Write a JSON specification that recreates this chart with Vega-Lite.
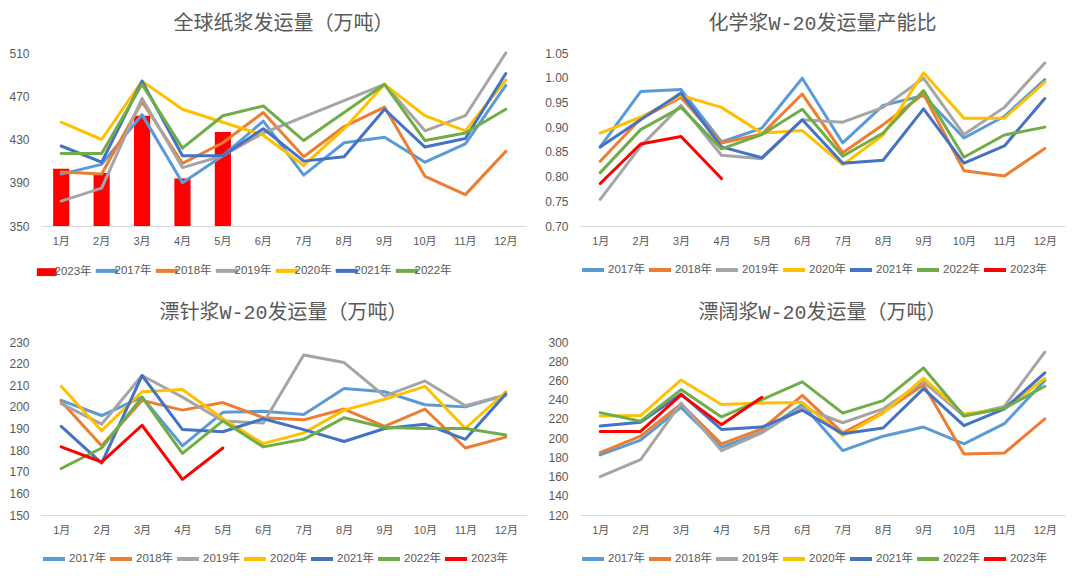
{
  "$schema": "https://vega.github.io/schema/vega-lite/v6.json",
  "background": "white",
  "padding": {"left": 8, "top": 14, "right": 5, "bottom": 0},
  "autosize": {"type": "pad"},
  "columns": 2,
  "bounds": "flush",
  "spacing": {"row": 116, "column": 54},
  "resolve": {"scale": {"color": "independent"}, "legend": {"color": "independent"}},
  "datasets": {
    "global": [
      {"m":"1月","s":"2017年","v":398},{"m":"2月","s":"2017年","v":407},{"m":"3月","s":"2017年","v":453},{"m":"4月","s":"2017年","v":390},{"m":"5月","s":"2017年","v":415},{"m":"6月","s":"2017年","v":447},{"m":"7月","s":"2017年","v":397},{"m":"8月","s":"2017年","v":427},{"m":"9月","s":"2017年","v":432},{"m":"10月","s":"2017年","v":409},{"m":"11月","s":"2017年","v":426},{"m":"12月","s":"2017年","v":480},
      {"m":"1月","s":"2018年","v":400},{"m":"2月","s":"2018年","v":398},{"m":"3月","s":"2018年","v":465},{"m":"4月","s":"2018年","v":408},{"m":"5月","s":"2018年","v":427},{"m":"6月","s":"2018年","v":455},{"m":"7月","s":"2018年","v":414},{"m":"8月","s":"2018年","v":442},{"m":"9月","s":"2018年","v":460},{"m":"10月","s":"2018年","v":396},{"m":"11月","s":"2018年","v":379},{"m":"12月","s":"2018年","v":419},
      {"m":"1月","s":"2019年","v":373},{"m":"2月","s":"2019年","v":385},{"m":"3月","s":"2019年","v":468},{"m":"4月","s":"2019年","v":404},{"m":"5月","s":"2019年","v":415},{"m":"6月","s":"2019年","v":436},{"m":"7月","s":"2019年","v":451},{"m":"8月","s":"2019年","v":466},{"m":"9月","s":"2019年","v":481},{"m":"10月","s":"2019年","v":438},{"m":"11月","s":"2019年","v":452},{"m":"12月","s":"2019年","v":510},
      {"m":"1月","s":"2020年","v":446},{"m":"2月","s":"2020年","v":430},{"m":"3月","s":"2020年","v":484},{"m":"4月","s":"2020年","v":458},{"m":"5月","s":"2020年","v":446},{"m":"6月","s":"2020年","v":434},{"m":"7月","s":"2020年","v":406},{"m":"8月","s":"2020年","v":440},{"m":"9月","s":"2020年","v":481},{"m":"10月","s":"2020年","v":452},{"m":"11月","s":"2020年","v":438},{"m":"12月","s":"2020年","v":485},
      {"m":"1月","s":"2021年","v":424},{"m":"2月","s":"2021年","v":409},{"m":"3月","s":"2021年","v":484},{"m":"4月","s":"2021年","v":415},{"m":"5月","s":"2021年","v":415},{"m":"6月","s":"2021年","v":440},{"m":"7月","s":"2021年","v":410},{"m":"8月","s":"2021年","v":414},{"m":"9月","s":"2021年","v":458},{"m":"10月","s":"2021年","v":423},{"m":"11月","s":"2021年","v":431},{"m":"12月","s":"2021年","v":491},
      {"m":"1月","s":"2022年","v":417},{"m":"2月","s":"2022年","v":417},{"m":"3月","s":"2022年","v":481},{"m":"4月","s":"2022年","v":422},{"m":"5月","s":"2022年","v":452},{"m":"6月","s":"2022年","v":461},{"m":"7月","s":"2022年","v":429},{"m":"8月","s":"2022年","v":455},{"m":"9月","s":"2022年","v":481},{"m":"10月","s":"2022年","v":429},{"m":"11月","s":"2022年","v":436},{"m":"12月","s":"2022年","v":458},
      {"m":"1月","s":"2023年","v":403},{"m":"2月","s":"2023年","v":399},{"m":"3月","s":"2023年","v":452},{"m":"4月","s":"2023年","v":394},{"m":"5月","s":"2023年","v":437}
    ],
    "ratio": [
      {"m":"1月","s":"2017年","v":0.860},{"m":"2月","s":"2017年","v":0.972},{"m":"3月","s":"2017年","v":0.976},{"m":"4月","s":"2017年","v":0.870},{"m":"5月","s":"2017年","v":0.898},{"m":"6月","s":"2017年","v":0.999},{"m":"7月","s":"2017年","v":0.868},{"m":"8月","s":"2017年","v":0.944},{"m":"9月","s":"2017年","v":0.964},{"m":"10月","s":"2017年","v":0.878},{"m":"11月","s":"2017年","v":0.922},{"m":"12月","s":"2017年","v":0.996},
      {"m":"1月","s":"2018年","v":0.831},{"m":"2月","s":"2018年","v":0.917},{"m":"3月","s":"2018年","v":0.960},{"m":"4月","s":"2018年","v":0.868},{"m":"5月","s":"2018年","v":0.886},{"m":"6月","s":"2018年","v":0.967},{"m":"7月","s":"2018年","v":0.848},{"m":"8月","s":"2018年","v":0.905},{"m":"9月","s":"2018年","v":0.967},{"m":"10月","s":"2018年","v":0.812},{"m":"11月","s":"2018年","v":0.801},{"m":"12月","s":"2018年","v":0.857},
      {"m":"1月","s":"2019年","v":0.754},{"m":"2月","s":"2019年","v":0.861},{"m":"3月","s":"2019年","v":0.944},{"m":"4月","s":"2019年","v":0.843},{"m":"5月","s":"2019年","v":0.836},{"m":"6月","s":"2019年","v":0.915},{"m":"7月","s":"2019年","v":0.910},{"m":"8月","s":"2019年","v":0.940},{"m":"9月","s":"2019年","v":0.999},{"m":"10月","s":"2019年","v":0.885},{"m":"11月","s":"2019年","v":0.940},{"m":"12月","s":"2019年","v":1.030},
      {"m":"1月","s":"2020年","v":0.888},{"m":"2月","s":"2020年","v":0.920},{"m":"3月","s":"2020年","v":0.964},{"m":"4月","s":"2020年","v":0.940},{"m":"5月","s":"2020年","v":0.888},{"m":"6月","s":"2020年","v":0.893},{"m":"7月","s":"2020年","v":0.824},{"m":"8月","s":"2020年","v":0.884},{"m":"9月","s":"2020年","v":1.010},{"m":"10月","s":"2020年","v":0.918},{"m":"11月","s":"2020年","v":0.918},{"m":"12月","s":"2020年","v":0.991},
      {"m":"1月","s":"2021年","v":0.860},{"m":"2月","s":"2021年","v":0.915},{"m":"3月","s":"2021年","v":0.969},{"m":"4月","s":"2021年","v":0.860},{"m":"5月","s":"2021年","v":0.838},{"m":"6月","s":"2021年","v":0.915},{"m":"7月","s":"2021年","v":0.827},{"m":"8月","s":"2021年","v":0.833},{"m":"9月","s":"2021年","v":0.937},{"m":"10月","s":"2021年","v":0.827},{"m":"11月","s":"2021年","v":0.862},{"m":"12月","s":"2021年","v":0.958},
      {"m":"1月","s":"2022年","v":0.808},{"m":"2月","s":"2022年","v":0.895},{"m":"3月","s":"2022年","v":0.940},{"m":"4月","s":"2022年","v":0.856},{"m":"5月","s":"2022年","v":0.885},{"m":"6月","s":"2022年","v":0.936},{"m":"7月","s":"2022年","v":0.841},{"m":"8月","s":"2022年","v":0.888},{"m":"9月","s":"2022年","v":0.974},{"m":"10月","s":"2022年","v":0.839},{"m":"11月","s":"2022年","v":0.884},{"m":"12月","s":"2022年","v":0.900},
      {"m":"1月","s":"2023年","v":0.786},{"m":"2月","s":"2023年","v":0.866},{"m":"3月","s":"2023年","v":0.881},{"m":"4月","s":"2023年","v":0.796}
    ],
    "softwood": [
      {"m":"1月","s":"2017年","v":203},{"m":"2月","s":"2017年","v":196},{"m":"3月","s":"2017年","v":204.5},{"m":"4月","s":"2017年","v":182},{"m":"5月","s":"2017年","v":197.5},{"m":"6月","s":"2017年","v":198},{"m":"7月","s":"2017年","v":196.5},{"m":"8月","s":"2017年","v":208.5},{"m":"9月","s":"2017年","v":207},{"m":"10月","s":"2017年","v":201},{"m":"11月","s":"2017年","v":200},{"m":"12月","s":"2017年","v":205.5},
      {"m":"1月","s":"2018年","v":202.5},{"m":"2月","s":"2018年","v":182},{"m":"3月","s":"2018年","v":203},{"m":"4月","s":"2018年","v":198.5},{"m":"5月","s":"2018年","v":202},{"m":"6月","s":"2018年","v":195},{"m":"7月","s":"2018年","v":194},{"m":"8月","s":"2018年","v":199},{"m":"9月","s":"2018年","v":191},{"m":"10月","s":"2018年","v":199},{"m":"11月","s":"2018年","v":181},{"m":"12月","s":"2018年","v":186},
      {"m":"1月","s":"2019年","v":201.5},{"m":"2月","s":"2019年","v":192},{"m":"3月","s":"2019年","v":214.5},{"m":"4月","s":"2019年","v":204.5},{"m":"5月","s":"2019年","v":193.5},{"m":"6月","s":"2019年","v":192.5},{"m":"7月","s":"2019年","v":224},{"m":"8月","s":"2019年","v":220.5},{"m":"9月","s":"2019年","v":205},{"m":"10月","s":"2019年","v":212},{"m":"11月","s":"2019年","v":200.5},{"m":"12月","s":"2019年","v":205.5},
      {"m":"1月","s":"2020年","v":209.5},{"m":"2月","s":"2020年","v":189},{"m":"3月","s":"2020年","v":207},{"m":"4月","s":"2020年","v":208},{"m":"5月","s":"2020年","v":194.5},{"m":"6月","s":"2020年","v":183},{"m":"7月","s":"2020年","v":188},{"m":"8月","s":"2020年","v":198.5},{"m":"9月","s":"2020年","v":203.5},{"m":"10月","s":"2020年","v":209.5},{"m":"11月","s":"2020年","v":190},{"m":"12月","s":"2020年","v":207},
      {"m":"1月","s":"2021年","v":191},{"m":"2月","s":"2021年","v":174},{"m":"3月","s":"2021年","v":214.5},{"m":"4月","s":"2021年","v":189.5},{"m":"5月","s":"2021年","v":188.5},{"m":"6月","s":"2021年","v":194.5},{"m":"7月","s":"2021年","v":189.5},{"m":"8月","s":"2021年","v":184},{"m":"9月","s":"2021年","v":190},{"m":"10月","s":"2021年","v":192},{"m":"11月","s":"2021年","v":185},{"m":"12月","s":"2021年","v":206},
      {"m":"1月","s":"2022年","v":171.5},{"m":"2月","s":"2022年","v":181},{"m":"3月","s":"2022年","v":204.5},{"m":"4月","s":"2022年","v":178.5},{"m":"5月","s":"2022年","v":193.5},{"m":"6月","s":"2022年","v":181.5},{"m":"7月","s":"2022年","v":185},{"m":"8月","s":"2022年","v":195},{"m":"9月","s":"2022年","v":190.5},{"m":"10月","s":"2022年","v":190},{"m":"11月","s":"2022年","v":190},{"m":"12月","s":"2022年","v":187},
      {"m":"1月","s":"2023年","v":181.5},{"m":"2月","s":"2023年","v":174.5},{"m":"3月","s":"2023年","v":191.5},{"m":"4月","s":"2023年","v":166.5},{"m":"5月","s":"2023年","v":181}
    ],
    "hardwood": [
      {"m":"1月","s":"2017年","v":182.5},{"m":"2月","s":"2017年","v":198},{"m":"3月","s":"2017年","v":232},{"m":"4月","s":"2017年","v":190.5},{"m":"5月","s":"2017年","v":206},{"m":"6月","s":"2017年","v":235},{"m":"7月","s":"2017年","v":187},{"m":"8月","s":"2017年","v":202},{"m":"9月","s":"2017年","v":211.5},{"m":"10月","s":"2017年","v":194},{"m":"11月","s":"2017年","v":215},{"m":"12月","s":"2017年","v":260},
      {"m":"1月","s":"2018年","v":185},{"m":"2月","s":"2018年","v":202},{"m":"3月","s":"2018年","v":235.5},{"m":"4月","s":"2018年","v":194},{"m":"5月","s":"2018年","v":209.5},{"m":"6月","s":"2018年","v":244.5},{"m":"7月","s":"2018年","v":205.5},{"m":"8月","s":"2018年","v":227},{"m":"9月","s":"2018年","v":255.5},{"m":"10月","s":"2018年","v":183.5},{"m":"11月","s":"2018年","v":184.5},{"m":"12月","s":"2018年","v":220},
      {"m":"1月","s":"2019年","v":160},{"m":"2月","s":"2019年","v":177.5},{"m":"3月","s":"2019年","v":236.5},{"m":"4月","s":"2019年","v":187},{"m":"5月","s":"2019年","v":205.5},{"m":"6月","s":"2019年","v":232},{"m":"7月","s":"2019年","v":216},{"m":"8月","s":"2019年","v":230.5},{"m":"9月","s":"2019年","v":258.5},{"m":"10月","s":"2019年","v":223},{"m":"11月","s":"2019年","v":233},{"m":"12月","s":"2019年","v":289.5},
      {"m":"1月","s":"2020年","v":223},{"m":"2月","s":"2020年","v":223.5},{"m":"3月","s":"2020年","v":260.5},{"m":"4月","s":"2020年","v":235},{"m":"5月","s":"2020年","v":236.5},{"m":"6月","s":"2020年","v":237},{"m":"7月","s":"2020年","v":202.5},{"m":"8月","s":"2020年","v":226},{"m":"9月","s":"2020年","v":262.5},{"m":"10月","s":"2020年","v":225},{"m":"11月","s":"2020年","v":230.5},{"m":"12月","s":"2020年","v":262},
      {"m":"1月","s":"2021年","v":212.5},{"m":"2月","s":"2021年","v":216.5},{"m":"3月","s":"2021年","v":246},{"m":"4月","s":"2021年","v":209},{"m":"5月","s":"2021年","v":211.5},{"m":"6月","s":"2021年","v":229},{"m":"7月","s":"2021年","v":204.5},{"m":"8月","s":"2021年","v":210.5},{"m":"9月","s":"2021年","v":251.5},{"m":"10月","s":"2021年","v":213},{"m":"11月","s":"2021年","v":230.5},{"m":"12月","s":"2021年","v":268},
      {"m":"1月","s":"2022年","v":226.5},{"m":"2月","s":"2022年","v":217.5},{"m":"3月","s":"2022年","v":250.5},{"m":"4月","s":"2022年","v":222},{"m":"5月","s":"2022年","v":240},{"m":"6月","s":"2022年","v":258.5},{"m":"7月","s":"2022年","v":226},{"m":"8月","s":"2022年","v":239},{"m":"9月","s":"2022年","v":273},{"m":"10月","s":"2022年","v":223},{"m":"11月","s":"2022年","v":231},{"m":"12月","s":"2022年","v":254},
      {"m":"1月","s":"2023年","v":207},{"m":"2月","s":"2023年","v":207},{"m":"3月","s":"2023年","v":245},{"m":"4月","s":"2023年","v":214},{"m":"5月","s":"2023年","v":242.5}
    ]
  },
  "concat": [
    {
      "title": "全球纸浆发运量（万吨）",
      "width": 485,
      "height": 173,
      "data": {"name": "global"},
      "layer": [
        {
          "transform": [{"filter": "datum.s === '2023年'"}],
          "mark": {"type": "bar"},
          "encoding": {
            "x": {"field": "m", "type": "nominal", "title": null, "sort": null,
                  "scale": {"domain": ["1月","2月","3月","4月","5月","6月","7月","8月","9月","10月","11月","12月"], "paddingInner": 0.6, "paddingOuter": 0.3}},
            "y": {"field": "v", "type": "quantitative", "title": null,
                  "scale": {"domain": [350, 510], "zero": false, "nice": false},
                  "axis": {"values": [350, 370, 390, 410, 430, 450, 470, 490, 510]}},
            "y2": {"datum": 350},
            "fill": {"field": "s", "type": "nominal", "legend": null,
                     "scale": {"domain": ["2023年"], "range": ["#FF0000"]}}
          }
        },
        {
          "transform": [{"filter": "datum.s !== '2023年'"}],
          "mark": {"type": "line", "strokeWidth": 3, "strokeJoin": "round", "strokeCap": "round"},
          "encoding": {
            "x": {"field": "m", "type": "nominal", "sort": null},
            "y": {"field": "v", "type": "quantitative"},
            "color": {"field": "s", "type": "nominal",
                      "scale": {"domain": ["2023年","2017年","2018年","2019年","2020年","2021年","2022年"],
                                "range": ["#FF0000","#5B9BD5","#ED7D31","#A5A5A5","#FFC000","#4472C4","#70AD47"]},
                      "legend": {"title": null, "orient": "bottom", "direction": "horizontal", "offset": 19,
                                 "encode": {"symbols": {"update": {
                                   "shape": {"signal": "datum.value === '2023年' ? 'M-0.9,-0.36H0.9V0.36H-0.9Z' : 'stroke'"},
                                   "fill": {"signal": "datum.value === '2023年' ? '#FF0000' : 'transparent'"},
                                   "strokeWidth": {"signal": "datum.value === '2023年' ? 0 : 4"}}}}}}
          }
        }
      ]
    },
    {
      "title": "化学浆W-20发运量产能比",
      "width": 485,
      "height": 173,
      "data": {"name": "ratio"},
      "mark": {"type": "line", "strokeWidth": 3, "strokeJoin": "round", "strokeCap": "round"},
      "encoding": {
        "x": {"field": "m", "type": "nominal", "title": null, "sort": null,
              "scale": {"type": "point", "domain": ["1月","2月","3月","4月","5月","6月","7月","8月","9月","10月","11月","12月"], "padding": 0.5}},
        "y": {"field": "v", "type": "quantitative", "title": null,
              "scale": {"domain": [0.7, 1.05], "zero": false, "nice": false},
              "axis": {"values": [0.7, 0.75, 0.8, 0.85, 0.9, 0.95, 1.0, 1.05], "format": ".2f"}},
        "color": {"field": "s", "type": "nominal",
                  "scale": {"domain": ["2017年","2018年","2019年","2020年","2021年","2022年","2023年"],
                            "range": ["#5B9BD5","#ED7D31","#A5A5A5","#FFC000","#4472C4","#70AD47","#FF0000"]},
                  "legend": {"title": null, "orient": "bottom", "direction": "horizontal"}}
      }
    },
    {
      "title": "漂针浆W-20发运量（万吨）",
      "width": 485,
      "height": 173,
      "data": {"name": "softwood"},
      "mark": {"type": "line", "strokeWidth": 3, "strokeJoin": "round", "strokeCap": "round"},
      "encoding": {
        "x": {"field": "m", "type": "nominal", "title": null, "sort": null,
              "scale": {"type": "point", "domain": ["1月","2月","3月","4月","5月","6月","7月","8月","9月","10月","11月","12月"], "padding": 0.5}},
        "y": {"field": "v", "type": "quantitative", "title": null,
              "scale": {"domain": [150, 230], "zero": false, "nice": false},
              "axis": {"values": [150, 160, 170, 180, 190, 200, 210, 220, 230]}},
        "color": {"field": "s", "type": "nominal",
                  "scale": {"domain": ["2017年","2018年","2019年","2020年","2021年","2022年","2023年"],
                            "range": ["#5B9BD5","#ED7D31","#A5A5A5","#FFC000","#4472C4","#70AD47","#FF0000"]},
                  "legend": {"title": null, "orient": "bottom", "direction": "horizontal"}}
      }
    },
    {
      "title": "漂阔浆W-20发运量（万吨）",
      "width": 485,
      "height": 173,
      "data": {"name": "hardwood"},
      "mark": {"type": "line", "strokeWidth": 3, "strokeJoin": "round", "strokeCap": "round"},
      "encoding": {
        "x": {"field": "m", "type": "nominal", "title": null, "sort": null,
              "scale": {"type": "point", "domain": ["1月","2月","3月","4月","5月","6月","7月","8月","9月","10月","11月","12月"], "padding": 0.5}},
        "y": {"field": "v", "type": "quantitative", "title": null,
              "scale": {"domain": [120, 300], "zero": false, "nice": false},
              "axis": {"values": [120, 140, 160, 180, 200, 220, 240, 260, 280, 300]}},
        "color": {"field": "s", "type": "nominal",
                  "scale": {"domain": ["2017年","2018年","2019年","2020年","2021年","2022年","2023年"],
                            "range": ["#5B9BD5","#ED7D31","#A5A5A5","#FFC000","#4472C4","#70AD47","#FF0000"]},
                  "legend": {"title": null, "orient": "bottom", "direction": "horizontal"}}
      }
    }
  ],
  "config": {
    "view": {"stroke": null},
    "font": "Liberation Sans, Noto Sans CJK SC",
    "title": {"font": "Liberation Mono, Noto Sans CJK SC", "fontSize": 20, "fontWeight": "normal", "color": "#595959", "offset": 13},
    "axis": {"labelFont": "Liberation Sans, Noto Sans CJK SC", "labelColor": "#595959", "grid": false, "ticks": false, "tickSize": 0},
    "axisX": {"domainColor": "#D9D9D9", "domainWidth": 1, "labelPadding": 9, "labelFontSize": 11, "labelAngle": 0},
    "axisY": {"domain": false, "labelPadding": 12, "labelFontSize": 12},
    "legend": {
      "symbolType": "stroke",
      "symbolSize": 484,
      "symbolStrokeWidth": 4,
      "labelFont": "Liberation Sans, Noto Sans CJK SC",
      "labelFontSize": 11.5,
      "labelColor": "#595959",
      "labelOffset": 2,
      "columnPadding": -5,
      "offset": 11
    }
  }
}
